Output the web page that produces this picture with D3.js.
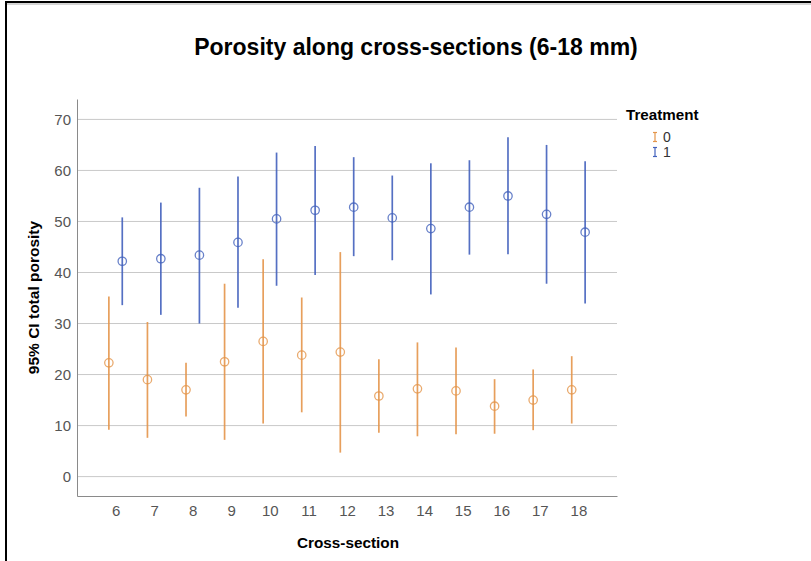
<!DOCTYPE html>
<html>
<head>
<meta charset="utf-8">
<script src="https://cdn.jsdelivr.net/npm/d3@7"></script>
<style>
  html, body { margin: 0; padding: 0; background: #fff; }
  svg { display: block; font-family: "Liberation Sans", Arial, sans-serif; }
</style>
</head>
<body>
<svg id="chart" width="811" height="561"></svg>
<script>
// Cross-sections along the sample (mm)
const crossSections = [6, 7, 8, 9, 10, 11, 12, 13, 14, 15, 16, 17, 18];

// Treatment 0: mean and 95% CI bounds of total porosity
const mean0  = [22.3, 19.0, 17.0, 22.5, 26.5, 23.8, 24.4, 15.8, 17.2, 16.8, 13.8, 15.0, 17.0];
const lower0 = [9.2, 7.6, 11.8, 7.2, 10.4, 12.6, 4.7, 8.6, 7.9, 8.3, 8.4, 9.1, 10.4];
const upper0 = [35.3, 30.3, 22.3, 37.8, 42.6, 35.1, 44.0, 23.0, 26.3, 25.3, 19.1, 21.0, 23.6];

// Treatment 1: mean and 95% CI bounds of total porosity
const mean1  = [42.2, 42.7, 43.4, 45.9, 50.5, 52.2, 52.8, 50.7, 48.6, 52.8, 55.0, 51.4, 47.9];
const lower1 = [33.6, 31.7, 30.0, 33.1, 37.4, 39.5, 43.2, 42.4, 35.7, 43.5, 43.6, 37.8, 33.9];
const upper1 = [50.8, 53.7, 56.6, 58.8, 63.5, 64.8, 62.6, 59.0, 61.4, 62.0, 66.5, 65.0, 61.8];

const yTicks = [0, 10, 20, 30, 40, 50, 60, 70];
const treatments = ["0", "1"];
const colors = { "0": "#E4954A", "1": "#4261BC" };

const series = [
  { key: "0", mean: mean0, lo: lower0, hi: upper0 },
  { key: "1", mean: mean1, lo: lower1, hi: upper1 }
];

const svg = d3.select("#chart");
const plotLeft = 77, plotRight = 617, plotTop = 99, plotBottom = 496;

// Outer frame
svg.append("rect").attr("x", 6).attr("y", 2).attr("width", 830).attr("height", 600)
  .attr("fill", "none").attr("stroke", "#000").attr("stroke-width", 2);
svg.append("line").attr("x1", 7).attr("x2", 811).attr("y1", 4).attr("y2", 4)
  .attr("stroke", "#aaa").attr("stroke-width", 1);

// Title
svg.append("text").attr("x", 416).attr("y", 55).attr("text-anchor", "middle")
  .attr("font-size", 23).attr("font-weight", "bold").attr("fill", "#000")
  .text("Porosity along cross-sections (6-18 mm)");

const x = d3.scalePoint().domain(crossSections).range([plotLeft, plotRight]).padding(1);
const y = d3.scaleLinear().domain([-3.8, 74]).range([plotBottom, plotTop]);
const offset = d3.scalePoint().domain(treatments).range([-6.7, 6.7]);

// Gridlines
svg.append("g").selectAll("line").data(yTicks).join("line")
  .attr("x1", plotLeft).attr("x2", plotRight)
  .attr("y1", d => y(d)).attr("y2", d => y(d))
  .attr("stroke", "#c9c9c9").attr("stroke-width", 1);

// Axes
const yAxis = svg.append("g").attr("transform", `translate(${plotLeft},0)`)
  .call(d3.axisLeft(y).tickValues(yTicks).tickSize(0).tickPadding(6));
yAxis.select(".domain").attr("stroke", "#8a8a8a");
yAxis.selectAll("text").attr("font-size", 15).attr("fill", "#555")
  .attr("font-family", "Liberation Sans, Arial, sans-serif");

const xAxis = svg.append("g").attr("transform", `translate(0,${plotBottom})`)
  .call(d3.axisBottom(x).tickSize(0).tickPadding(9));
xAxis.select(".domain").attr("stroke", "#8a8a8a");
xAxis.selectAll("text").attr("font-size", 15).attr("fill", "#555")
  .attr("font-family", "Liberation Sans, Arial, sans-serif");

// Axis titles
svg.append("text").attr("transform", `translate(39,${(plotTop + plotBottom) / 2}) rotate(-90)`)
  .attr("text-anchor", "middle").attr("font-size", 15.5).attr("font-weight", "bold")
  .text("95% CI total porosity");
svg.append("text").attr("x", (plotLeft + plotRight) / 2 + 1).attr("y", 548)
  .attr("text-anchor", "middle").attr("font-size", 15.3).attr("font-weight", "bold")
  .text("Cross-section");

// Error bars and mean markers
series.forEach(s => {
  const g = svg.append("g");
  const rows = crossSections.map((c, i) => ({ c, m: s.mean[i], lo: s.lo[i], hi: s.hi[i] }));
  const cx = d => x(d.c) + offset(s.key);
  g.selectAll("line.bar").data(rows).join("line").attr("class", "bar")
    .attr("x1", cx).attr("x2", cx)
    .attr("y1", d => y(d.lo)).attr("y2", d => y(d.hi))
    .attr("stroke", colors[s.key]).attr("stroke-width", 1.7).attr("stroke-opacity", 0.9);
  g.selectAll("circle").data(rows).join("circle")
    .attr("cx", cx).attr("cy", d => y(d.m)).attr("r", 4.2)
    .attr("fill", "none").attr("stroke", colors[s.key])
    .attr("stroke-width", 1.3).attr("stroke-opacity", 0.8);
});

// Legend
const legend = svg.append("g");
legend.append("text").attr("x", 626).attr("y", 120)
  .attr("font-size", 15.2).attr("font-weight", "bold").text("Treatment");
treatments.forEach((t, i) => {
  const cy = 137 + i * 15;
  const lg = legend.append("g").attr("stroke", colors[t]).attr("stroke-width", 1.2);
  lg.append("line").attr("x1", 655).attr("x2", 655).attr("y1", cy - 4.5).attr("y2", cy + 4.5);
  lg.append("line").attr("x1", 653).attr("x2", 657).attr("y1", cy - 4.5).attr("y2", cy - 4.5);
  lg.append("line").attr("x1", 653).attr("x2", 657).attr("y1", cy + 4.5).attr("y2", cy + 4.5);
  legend.append("text").attr("x", 663).attr("y", cy + 5)
    .attr("font-size", 14).attr("fill", "#333").text(t);
});
</script>
</body>
</html>
